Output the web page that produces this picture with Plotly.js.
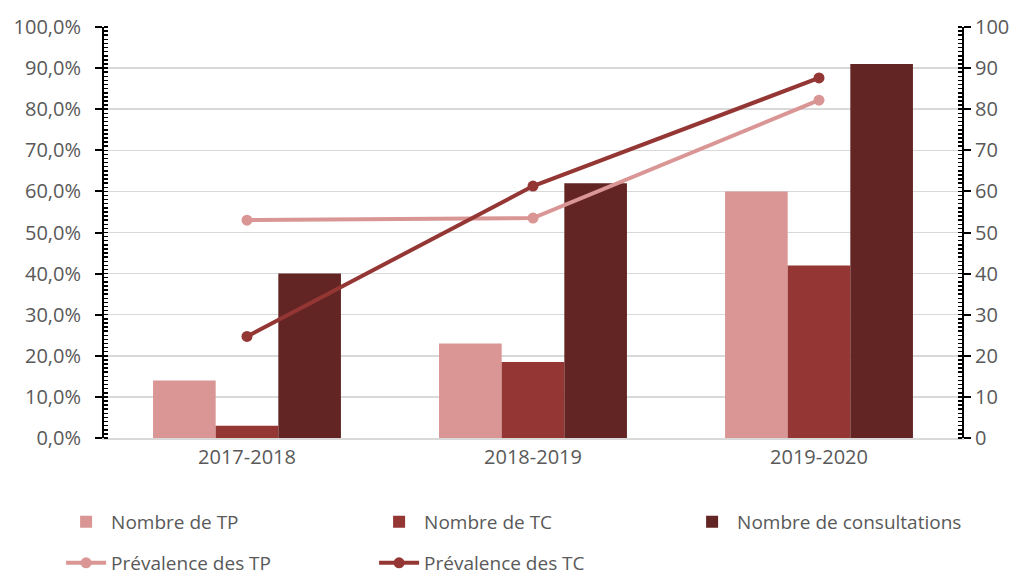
<!DOCTYPE html>
<html>
<head>
<meta charset="utf-8">
<script src="https://cdn.plot.ly/plotly-3.0.1.min.js"></script>
<style>html,body{margin:0;padding:0;background:#fff;}#chart{width:1025px;height:578px;}</style>
</head>
<body>
<div id="chart"></div>
<script>
const categories = ["2017-2018", "2018-2019", "2019-2020"];
const nombreTP = [14, 23, 60];
const nombreTC = [3, 18.5, 42];
const nombreConsultations = [40, 62, 91];
const prevalenceTP = [0.530, 0.535, 0.822];
const prevalenceTC = [0.247, 0.613, 0.876];

const cLight = "#d99694";
const cMid = "#943634";
const cDark = "#632523";
const fontFam = "Open Sans, sans-serif";
const txt = "#595959";

const traces = [
  {type: "bar", name: "Nombre de TP", x: categories, y: nombreTP, yaxis: "y", marker: {color: cLight}, legend: "legend"},
  {type: "bar", name: "Nombre de TC", x: categories, y: nombreTC, yaxis: "y", marker: {color: cMid}, legend: "legend"},
  {type: "bar", name: "Nombre de consultations", x: categories, y: nombreConsultations, yaxis: "y", marker: {color: cDark}, legend: "legend"},
  {type: "scatter", mode: "lines+markers", name: "Prévalence des TP", x: categories, y: prevalenceTP, yaxis: "y2",
   line: {color: cLight, width: 4}, marker: {color: cLight, size: 11, symbol: "circle"}, legend: "legend2"},
  {type: "scatter", mode: "lines+markers", name: "Prévalence des TC", x: categories, y: prevalenceTC, yaxis: "y2",
   line: {color: cMid, width: 4}, marker: {color: cMid, size: 11, symbol: "circle"}, legend: "legend2"}
];

const tickBase = {ticks: "inside", ticklen: 7, tickwidth: 2, tickcolor: "#000", showgrid: false, zeroline: false,
                  showticklabels: false, showline: false, fixedrange: true};

const layout = {
  width: 1025, height: 578,
  margin: {l: 104, r: 63, t: 27, b: 140, autoexpand: false},
  paper_bgcolor: "#fff", plot_bgcolor: "#fff",
  font: {family: fontFam, size: 20, color: txt},
  separators: ", ",
  barmode: "group", bargap: 0.343, bargroupgap: 0,
  showlegend: true,
  xaxis: {type: "category", range: [-0.5, 2.5], showline: true, linecolor: "#d9d9d9", linewidth: 1.5,
          ticks: "", showgrid: false, tickfont: {size: 20, color: txt}},
  yaxis: {side: "right", range: [0, 100], dtick: 10, tick0: 0, showgrid: true, gridcolor: "#d9d9d9", gridwidth: 1.5,
          zeroline: false, showline: true, linecolor: "#000", linewidth: 2,
          ticks: "outside", ticklen: 7, tickwidth: 2, tickcolor: "#000",
          minor: {dtick: 1, ticks: "inside", ticklen: 4, tickwidth: 1.5, tickcolor: "#000", showgrid: false},
          tickfont: {size: 20, color: txt}},
  yaxis2: {side: "left", overlaying: "y", range: [0, 1], dtick: 0.1, tick0: 0, tickformat: ".1%",
           showgrid: false, zeroline: false, showline: true, linecolor: "#000", linewidth: 2,
           ticks: "outside", ticklen: 7, tickwidth: 2, tickcolor: "#000", ticklabelstandoff: 10,
           minor: {dtick: 0.01, ticks: "inside", ticklen: 4, tickwidth: 1.5, tickcolor: "#000", showgrid: false},
           tickfont: {size: 20, color: txt}},
  yaxis3: Object.assign({side: "right", overlaying: "y", range: [0, 100], dtick: 10, tick0: 0}, tickBase),
  yaxis4: Object.assign({side: "left", overlaying: "y", range: [0, 100], dtick: 10, tick0: 0}, tickBase),
  legend: {orientation: "h", xref: "paper", yref: "paper", x: -0.050, y: -0.204, xanchor: "left", yanchor: "middle",
           entrywidth: 258, entrywidthmode: "pixels", font: {size: 19, color: txt}, itemwidth: 40, traceorder: "normal"},
  legend2: {orientation: "h", xref: "paper", yref: "paper", x: -0.050, y: -0.304, xanchor: "left", yanchor: "middle",
            entrywidth: 258, entrywidthmode: "pixels", font: {size: 19, color: txt}, itemwidth: 40, traceorder: "normal"}
};

Plotly.newPlot("chart", traces, layout, {displayModeBar: false, staticPlot: true});
</script>
</body>
</html>
